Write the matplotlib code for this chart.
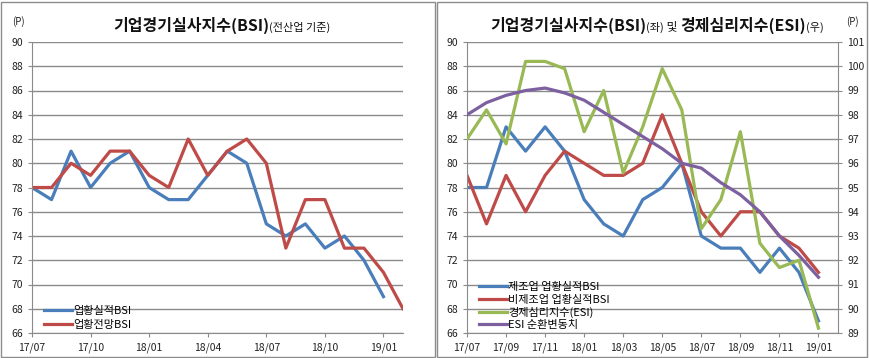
import matplotlib.pyplot as plt
from matplotlib.patches import Rectangle
from matplotlib.offsetbox import TextArea, HPacker, AnnotationBbox

plt.rcParams['font.family'] = ['Noto Sans CJK KR', 'DejaVu Sans']

# Left chart: 17/07 ~ 19/02
months_left = ['17/07', '17/08', '17/09', '17/10', '17/11', '17/12',
               '18/01', '18/02', '18/03', '18/04', '18/05', '18/06',
               '18/07', '18/08', '18/09', '18/10', '18/11', '18/12',
               '19/01', '19/02']
bsi_actual = [78, 77, 81, 78, 80, 81, 78, 77, 77, 79, 81, 80,
              75, 74, 75, 73, 74, 72, 69]
bsi_outlook = [78, 78, 80, 79, 81, 81, 79, 78, 82, 79, 81, 82,
               80, 73, 77, 77, 73, 73, 71, 68]

# Right chart: 17/07 ~ 19/01
months_right = months_left[:19]
mfg_bsi = [78, 78, 83, 81, 83, 81, 77, 75, 74, 77, 78, 80,
           74, 73, 73, 71, 73, 71, 67]
nonmfg_bsi = [79, 75, 79, 76, 79, 81, 80, 79, 79, 80, 84, 80,
              76, 74, 76, 76, 74, 73, 71]
esi = [97.0, 98.2, 96.8, 100.2, 100.2, 99.9, 97.3, 99.0, 95.6, 97.5,
       99.9, 98.2, 93.3, 94.5, 97.3, 92.7, 91.7, 92.0, 89.2]
esi_cycle = [98.0, 98.5, 98.8, 99.0, 99.1, 98.9, 98.6, 98.1, 97.6, 97.1,
             96.6, 96.0, 95.8, 95.2, 94.7, 94.0, 93.0, 92.2, 91.3]

BLUE = '#4a7ebb'
RED = '#be4b48'
GREEN = '#98b954'
PURPLE = '#7d60a0'
GRID = '#8a8a8a'
W, H = 869, 358

fig = plt.figure(figsize=(W / 100, H / 100), dpi=100)

# panel frames
for x0, x1 in [(1, 435), (437, 867)]:
    fig.patches.append(Rectangle((x0 / W, 1 / H), (x1 - x0) / W, (H - 3) / H,
                                 transform=fig.transFigure, fill=False,
                                 edgecolor='#8c8c8c', linewidth=1))


def style_axis(ax):
    ax.grid(axis='y', color=GRID, linewidth=1)
    ax.set_axisbelow(True)
    for s in ['top', 'right']:
        ax.spines[s].set_visible(False)
    for s in ['left', 'bottom']:
        ax.spines[s].set_color(GRID)
    ax.tick_params(axis='both', colors=GRID, labelcolor='#222222',
                   labelsize=7.5, length=3, width=0.8)
    ax.tick_params(axis='x', pad=4)


def add_title(x, y, parts):
    boxes = [TextArea(t, textprops=dict(fontsize=fs, fontweight=fw, color='#111111'))
             for t, fs, fw in parts]
    pack = HPacker(children=boxes, align='baseline', pad=0, sep=0)
    ab = AnnotationBbox(pack, (x, y), xycoords='figure fraction', frameon=False,
                        box_alignment=(0.5, 0.5))
    fig.add_artist(ab)


legend_kw = dict(loc='lower left', frameon=False, fontsize=8, handlelength=2.5,
                 handletextpad=0.1, borderaxespad=0, borderpad=0.25)

# ---- left chart
ax1 = fig.add_axes([32 / W, 1 - 333 / H, (403 - 32) / W, (333 - 42) / H])
style_axis(ax1)
ax1.plot(range(len(bsi_actual)), bsi_actual, color=BLUE, lw=2.3, label='업황실적BSI')
ax1.plot(range(len(bsi_outlook)), bsi_outlook, color=RED, lw=2.3, label='업황전망BSI')
ax1.set_xlim(0, len(months_left) - 1)
ax1.set_ylim(66, 90)
ax1.set_yticks(range(66, 91, 2))
ax1.set_xticks(range(0, len(months_left), 3))
ax1.set_xticklabels(months_left[::3])
ax1.legend(bbox_to_anchor=(0.025, 0.0), labelspacing=0.35, **legend_kw)
add_title(222 / W, 1 - 25 / H, [('기업경기실사지수(BSI)', 11.5, 'bold'),
                                ('(전산업 기준)', 8, 'normal')])
fig.text(18 / W, 1 - 22 / H, '(P)', fontsize=7, ha='center', va='center', color='#222222')

# ---- right chart
ax2 = fig.add_axes([467 / W, 1 - 333 / H, (838 - 467) / W, (333 - 42) / H])
style_axis(ax2)
x2 = range(len(months_right))
ax2.plot(x2, mfg_bsi, color=BLUE, lw=2.3, label='제조업 업황실적BSI')
ax2.plot(x2, nonmfg_bsi, color=RED, lw=2.3, label='비제조업 업황실적BSI')
ax2.set_xlim(0, len(months_right))
ax2.set_ylim(66, 90)
ax2.set_yticks(range(66, 91, 2))
ax2.set_xticks(range(0, len(months_right), 2))
ax2.set_xticklabels(months_right[::2])

ax3 = ax2.twinx()
ax3.plot(x2, esi, color=GREEN, lw=2.3, label='경제심리지수(ESI)')
ax3.plot(x2, esi_cycle, color=PURPLE, lw=2.3, label='ESI 순환변동치')
ax3.set_ylim(89, 101)
ax3.set_yticks(range(89, 102))
for s in ['top', 'left', 'bottom']:
    ax3.spines[s].set_visible(False)
ax3.spines['right'].set_color(GRID)
ax3.tick_params(axis='y', colors=GRID, labelcolor='#222222', labelsize=7.5,
                length=3, width=0.8)

h2, l2 = ax2.get_legend_handles_labels()
h3, l3 = ax3.get_legend_handles_labels()
ax3.legend(h2 + h3, l2 + l3, bbox_to_anchor=(0.025, 0.0), labelspacing=0.2,
           **legend_kw)
add_title(657 / W, 1 - 25 / H, [('기업경기실사지수(BSI)', 11.5, 'bold'),
                                ('(좌)', 8, 'normal'),
                                (' 및 ', 8.5, 'normal'),
                                ('경제심리지수(ESI)', 11.5, 'bold'),
                                ('(우)', 8, 'normal')])
fig.text(852 / W, 1 - 22 / H, '(P)', fontsize=7, ha='center', va='center', color='#222222')

fig.savefig('out.png', dpi=100)
